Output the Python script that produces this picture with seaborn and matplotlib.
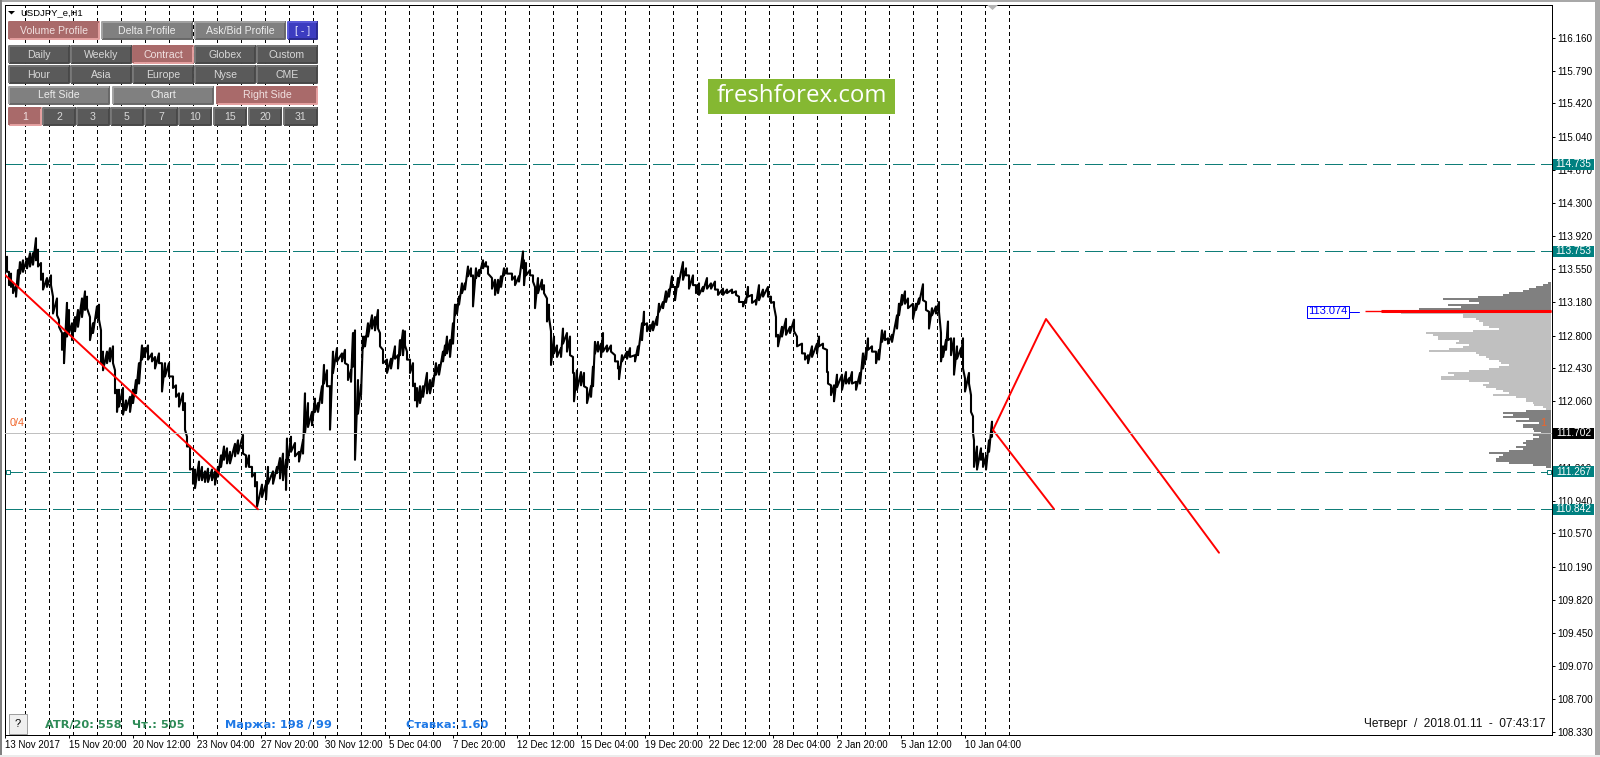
import matplotlib
matplotlib.use("Agg")
import matplotlib.pyplot as plt
import matplotlib.transforms as mtrans
import numpy as np
import seaborn as sns
from matplotlib.patches import Polygon, Rectangle

# hourly bars, sampled by eye: bar number, high and low of the stretch
bar_idx = [
    0, 2, 4, 6, 8, 11, 13, 15, 18, 22,
    25, 28, 31, 33, 36, 38, 42, 46, 48, 52,
    54, 57, 59, 62, 64, 67, 70, 73, 77, 80,
    82, 85, 88, 92, 94, 96, 98, 102, 105, 108,
    110, 112, 114, 118, 121, 125, 128, 131, 134, 137,
    139, 143, 147, 150, 154, 157, 160, 164, 168, 171,
    174, 178, 180, 182, 185, 188, 190, 194, 197, 200,
    203, 207, 210, 213, 216, 219, 222, 225, 230, 233,
    238, 241, 244, 247, 250, 252, 257, 261, 263, 268,
    272, 275, 278, 281, 282, 286, 290, 294, 298, 300,
    303, 307, 310, 313, 317, 319, 322, 325, 328, 332,
    337, 340, 343, 346, 348, 350, 353, 356, 358, 360,
    363, 367, 370, 373, 375, 378, 382, 386, 390, 393,
    395, 398, 400, 402, 405, 408, 410, 412, 415, 418,
    422, 425, 428, 431, 434, 438, 440, 442, 445, 448,
    450, 452, 454, 457, 460, 463, 466, 468, 471, 474,
    478, 481, 483, 487, 490, 493, 496, 499, 502, 507,
    510, 514, 518, 519, 521, 525, 528, 530, 533, 537,
    539, 542, 544, 546, 549, 552, 556, 558, 562, 565,
    568, 569, 572, 576, 579, 582, 586, 588, 590, 593,
    596, 598, 602, 606, 610, 613, 614, 617, 622, 625,
    630, 633, 637, 639, 642, 645, 648, 652, 654, 658,
    661, 664, 667, 670, 673, 678, 681, 684, 688, 691,
    694, 698, 702, 706, 710, 713, 718, 722, 727, 731,
    734, 738, 741, 743, 747, 751, 754, 758, 763, 766,
    769, 771, 773, 777, 781, 785, 789, 792, 797, 800,
    803, 807, 812, 814, 818, 822, 823, 826, 829, 832,
    837, 841, 844, 847, 851, 855, 858, 861, 863, 867,
    871, 874, 877, 880, 883, 887, 892, 894, 897, 900,
    903, 908, 911, 914, 918, 921, 924, 927, 931, 934,
    936, 938, 941, 943, 946, 949, 952, 956, 958, 960,
    964, 966, 968, 969, 972, 976, 978, 981, 984, 987,
]
price_high = [
    113.69, 113.69, 113.52, 113.50, 113.39, 113.37, 113.54, 113.63, 113.65, 113.67,
    113.73, 113.73, 113.90, 113.77, 113.62, 113.50, 113.45, 113.48, 113.24, 113.22,
    112.98, 112.83, 112.83, 113.17, 113.09, 112.94, 113.01, 113.09, 113.22, 113.30,
    113.24, 113.01, 112.94, 113.13, 113.15, 112.86, 112.62, 112.62, 112.66, 112.68,
    112.41, 112.19, 112.19, 112.21, 112.07, 112.11, 112.19, 112.30, 112.49, 112.69,
    112.66, 112.69, 112.60, 112.56, 112.60, 112.49, 112.49, 112.49, 112.34, 112.24,
    112.15, 112.15, 112.04, 111.66, 111.55, 111.30, 111.29, 111.38, 111.32, 111.27,
    111.30, 111.29, 111.27, 111.32, 111.45, 111.55, 111.53, 111.49, 111.58, 111.62,
    111.68, 111.45, 111.45, 111.32, 111.25, 111.15, 111.12, 111.13, 111.32, 111.27,
    111.32, 111.42, 111.47, 111.40, 111.64, 111.66, 111.59, 111.49, 111.62, 112.15,
    112.04, 111.94, 112.09, 112.04, 112.23, 112.47, 112.41, 112.23, 112.62, 112.66,
    112.60, 112.64, 112.47, 112.41, 112.83, 112.86, 112.30, 112.24, 112.79, 112.79,
    112.94, 113.03, 113.01, 113.09, 112.83, 112.64, 112.53, 112.54, 112.68, 112.58,
    112.75, 112.86, 112.85, 112.62, 112.53, 112.49, 112.26, 112.21, 112.23, 112.23,
    112.38, 112.30, 112.32, 112.49, 112.47, 112.62, 112.69, 112.79, 112.75, 112.94,
    113.15, 113.15, 113.24, 113.39, 113.39, 113.58, 113.56, 113.48, 113.56, 113.54,
    113.65, 113.63, 113.58, 113.45, 113.43, 113.43, 113.47, 113.56, 113.56, 113.50,
    113.47, 113.47, 113.75, 113.65, 113.62, 113.54, 113.48, 113.35, 113.45, 113.43,
    113.37, 113.22, 113.15, 112.85, 112.79, 112.69, 112.66, 112.88, 112.83, 112.79,
    112.56, 112.38, 112.41, 112.39, 112.38, 112.21, 112.23, 112.45, 112.73, 112.73,
    112.71, 112.83, 112.69, 112.69, 112.58, 112.51, 112.45, 112.58, 112.62, 112.66,
    112.58, 112.68, 112.94, 113.07, 112.94, 112.92, 112.96, 113.01, 113.16, 113.18,
    113.30, 113.32, 113.47, 113.35, 113.45, 113.63, 113.56, 113.48, 113.48, 113.37,
    113.39, 113.35, 113.45, 113.39, 113.41, 113.32, 113.33, 113.32, 113.32, 113.30,
    113.24, 113.18, 113.22, 113.35, 113.26, 113.20, 113.37, 113.32, 113.35, 113.24,
    113.18, 113.01, 112.81, 112.90, 112.99, 112.90, 112.98, 112.79, 112.71, 112.60,
    112.58, 112.68, 112.71, 112.79, 112.71, 112.64, 112.39, 112.24, 112.24, 112.36,
    112.36, 112.39, 112.32, 112.39, 112.28, 112.38, 112.60, 112.62, 112.77, 112.68,
    112.62, 112.64, 112.86, 112.85, 112.77, 112.81, 113.03, 113.16, 113.26, 113.30,
    113.22, 113.16, 113.16, 113.22, 113.38, 113.18, 113.07, 113.11, 113.13, 113.18,
    112.83, 112.68, 112.75, 112.96, 112.77, 112.77, 112.68, 112.66, 112.77, 112.32,
    112.38, 112.13, 111.89, 111.62, 111.55, 111.53, 111.47, 111.44, 111.62, 111.83,
]
price_low = [
    113.62, 113.52, 113.37, 113.35, 113.28, 113.24, 113.35, 113.50, 113.52, 113.56,
    113.58, 113.60, 113.65, 113.58, 113.43, 113.32, 113.35, 113.37, 113.05, 113.03,
    112.90, 112.64, 112.49, 112.79, 112.83, 112.75, 112.85, 112.90, 113.01, 113.09,
    113.11, 112.75, 112.83, 113.00, 112.98, 112.49, 112.41, 112.49, 112.51, 112.49,
    112.15, 111.94, 112.00, 111.91, 111.96, 111.94, 112.04, 112.15, 112.26, 112.53,
    112.56, 112.53, 112.51, 112.43, 112.49, 112.17, 112.34, 112.34, 112.21, 112.11,
    112.00, 111.96, 111.74, 111.55, 111.29, 111.13, 111.08, 111.17, 111.17, 111.15,
    111.15, 111.17, 111.12, 111.21, 111.32, 111.40, 111.36, 111.36, 111.44, 111.47,
    111.47, 111.32, 111.32, 111.21, 111.10, 110.87, 110.98, 110.95, 111.13, 111.13,
    111.25, 111.19, 111.17, 111.06, 111.32, 111.49, 111.44, 111.38, 111.47, 111.70,
    111.77, 111.79, 111.94, 111.94, 112.04, 112.26, 112.23, 111.74, 112.38, 112.51,
    112.51, 112.49, 112.30, 112.28, 112.45, 111.40, 111.92, 112.13, 112.66, 112.68,
    112.79, 112.88, 112.86, 112.88, 112.68, 112.49, 112.38, 112.43, 112.54, 112.43,
    112.58, 112.58, 112.69, 112.53, 112.38, 112.23, 112.07, 112.00, 112.04, 112.11,
    112.15, 112.15, 112.23, 112.36, 112.36, 112.51, 112.58, 112.60, 112.56, 112.71,
    113.03, 113.05, 113.15, 113.28, 113.32, 113.47, 113.47, 113.13, 113.45, 113.47,
    113.56, 113.58, 113.50, 113.33, 113.26, 113.28, 113.35, 113.48, 113.50, 113.43,
    113.37, 113.41, 113.56, 113.37, 113.48, 113.48, 113.41, 113.11, 113.28, 113.32,
    113.28, 112.96, 113.01, 112.47, 112.60, 112.56, 112.56, 112.71, 112.62, 112.58,
    112.38, 112.06, 112.19, 112.24, 112.23, 112.04, 112.11, 112.23, 112.60, 112.62,
    112.56, 112.62, 112.62, 112.62, 112.51, 112.43, 112.31, 112.51, 112.54, 112.56,
    112.51, 112.58, 112.75, 112.92, 112.85, 112.85, 112.86, 112.92, 113.07, 113.11,
    113.18, 113.24, 113.35, 113.20, 113.35, 113.43, 113.48, 113.33, 113.37, 113.28,
    113.26, 113.30, 113.33, 113.33, 113.32, 113.26, 113.26, 113.28, 113.28, 113.26,
    113.18, 113.13, 113.17, 113.24, 113.17, 113.15, 113.20, 113.24, 113.24, 113.17,
    113.13, 112.79, 112.68, 112.79, 112.81, 112.83, 112.85, 112.68, 112.60, 112.53,
    112.49, 112.56, 112.60, 112.68, 112.66, 112.39, 112.26, 112.13, 112.06, 112.22,
    112.19, 112.26, 112.26, 112.26, 112.19, 112.26, 112.43, 112.53, 112.64, 112.62,
    112.49, 112.53, 112.73, 112.75, 112.71, 112.73, 112.88, 113.03, 113.15, 113.16,
    113.11, 112.99, 113.09, 113.16, 113.20, 113.09, 112.88, 113.03, 113.05, 113.07,
    112.51, 112.56, 112.64, 112.75, 112.58, 112.36, 112.54, 112.56, 112.43, 112.17,
    112.26, 111.94, 111.70, 111.32, 111.29, 111.40, 111.32, 111.29, 111.49, 111.66,
]

# red trend lines
trend_x = [0, 253]
trend_y = [113.485, 110.842]
wave_x = [988, 1041, 1214]
wave_y = [111.736, 112.988, 110.352]
short_x = [988, 1049]
short_y = [111.736, 110.845]

# levels
level_prices = [114.735, 113.753, 111.267, 110.842]
last_price = 111.702

# volume profile, top to bottom
poc_price = 113.074
poc_volume = 186
poc_core = 170
profile_step = 0.02256
upper_start = 113.391
upper_volume = [3, 8, 15, 22, 28, 42, 48, 73, 108, 82, 72, 103, 90, 132]
value_start = 113.0525
value_volume = [150, 88, 88, 75, 72, 68, 68, 62, 52, 78,
                125, 118, 113, 113, 92, 95, 82, 88, 102, 122,
                75, 72, 65, 62, 52, 50, 42, 52, 62, 82,
                103, 97, 110, 110, 82, 62, 68, 65, 55, 48,
                42, 58, 35, 25, 25, 18, 17, 8, 5]
lower_start = 111.947
lower_volume = [25, 48, 38, 48, 22, 35, 12, 28, 28, 18,
                17, 10, 18, 12, 18, 25, 28, 25, 35, 28,
                42, 62, 48, 52, 55, 55, 42, 18, 5]

# axes
y_ticks = [116.160, 115.790, 115.420, 115.040, 114.670, 114.300, 113.920, 113.550,
           113.180, 112.800, 112.430, 112.060, 111.690, 111.310, 110.940, 110.570,
           110.190, 109.820, 109.450, 109.070, 108.700, 108.330]
x_tick_labels = ['13 Nov 2017', '15 Nov 20:00', '20 Nov 12:00', '23 Nov 04:00',
                 '27 Nov 20:00', '30 Nov 12:00', '5 Dec 04:00', '7 Dec 20:00',
                 '12 Dec 12:00', '15 Dec 04:00', '19 Dec 20:00', '22 Dec 12:00',
                 '28 Dec 04:00', '2 Jan 20:00', '5 Jan 12:00', '10 Jan 04:00']

sns.set_style("white")
plt.rcParams['font.family'] = ['Liberation Sans', 'DejaVu Sans']

W, H = 1600, 757
PX = 0.72  # one pixel in points at dpi 100
fig = plt.figure(figsize=(W / 100, H / 100), dpi=100)
ax = fig.add_axes([4.5 / W, 1 - 734.5 / H, 1547 / W, 730 / H])
ax.set_xlim(-0.5, 1546.5)
ax.set_ylim(108.302, 116.535)

# day separators
for x in np.arange(20.3, 1005, 24):
    ax.axvline(x, color='black', lw=PX, ls=(0, (3, 3)), antialiased=False, zorder=1)

for lvl in level_prices:
    ax.axhline(lvl, color='#0f7d78', lw=PX, ls=(0, (18, 6)), antialiased=False, zorder=1)

# price, drawn high-low-high-low so it reads as a jagged band
zig_x = np.repeat(bar_idx, 2)
zig_y = np.column_stack([price_high, price_low]).ravel()
sns.lineplot(x=zig_x, y=zig_y, sort=False, estimator=None, color='black', lw=1.5, ax=ax, zorder=3)

for xs, ys in [(trend_x, trend_y), (wave_x, wave_y), (short_x, short_y)]:
    sns.lineplot(x=xs, y=ys, sort=False, estimator=None, color='#ff0000', lw=1.4, ax=ax, zorder=4)

ax.yaxis.tick_right()
ax.set_yticks(y_ticks)
ax.set_yticklabels(['%.3f' % t for t in y_ticks])
ax.set_xticks(np.arange(len(x_tick_labels)) * 64)
ax.set_xticklabels(x_tick_labels)
ax.tick_params(axis='y', which='major', right=True, length=3 * PX, width=PX, pad=2.2,
               labelsize=7.1, colors='black')
ax.tick_params(axis='x', which='major', bottom=True, length=3 * PX, width=PX, pad=1.6,
               labelsize=7, colors='black')
for lbl in ax.get_xticklabels():
    lbl.set_ha('left')
for sp in ax.spines.values():
    sp.set_color('black')
    sp.set_linewidth(PX)
ax.set_xlabel('')
ax.set_ylabel('')

# profile on its own x scale, growing left from the price axis
prof = ax.twiny()
for start, vols, col in [(upper_start, upper_volume, '#808080'),
                         (value_start, value_volume, '#c0c0c0'),
                         (lower_start, lower_volume, '#808080')]:
    levels = start - np.arange(len(vols)) * profile_step
    sns.barplot(x=vols, y=levels, orient='y', native_scale=True, width=1, color=col,
                saturation=1, linewidth=0, ax=prof, zorder=2)
prof.hlines(poc_price, 0, poc_volume, color='#ff0000', lw=1.0, zorder=3)
prof.hlines(poc_price, 0, poc_core, color='#ff0000', lw=2.2, zorder=3)
prof.set_xlim(1546.5, -0.5)
prof.set_ylim(108.302, 116.535)
prof.axis('off')
prof.patch.set_alpha(0)

# grey last-price line over the profile
prof.axhline(last_price, color='#c0c0c0', lw=PX, antialiased=False, zorder=4)

# window furniture and panel, in pixel coordinates
ui = fig.add_axes([0, 0, 1, 1], zorder=10)
ui.set_xlim(0, W)
ui.set_ylim(H, 0)
ui.axis('off')
ui.patch.set_alpha(0)

ui.add_patch(Rectangle((0, 0), W, 2, fc='#a8a8a8', ec='none'))
ui.add_patch(Rectangle((0, 0), 2, H, fc='#808080', ec='none'))
ui.add_patch(Rectangle((1595, 0), 5, H, fc='#a8a8a8', ec='none'))
ui.add_patch(Rectangle((0, 755), W, 2, fc='#ececec', ec='none'))


def button(x0, x1, y0, y1, label, kind):
    fill, light, dark, txt = {
        'dark': ('#5a5a5a', '#767676', '#484848', '#d8d8d8'),
        'gray': ('#808080', '#a2a2a2', '#686868', '#ececec'),
        'red': ('#a96a6a', '#a96a6a', '#e5a0a0', '#f0e0e0'),
        'blue': ('#3c3cc0', '#5a5ad8', '#2a2a90', '#e8e8ff'),
    }[kind]
    ui.add_patch(Rectangle((x0, y0), x1 - x0, y1 - y0, fc=fill, ec='none'))
    ui.plot([x0, x1, x1], [y1 - 0.5, y1 - 0.5, y0], color=dark, lw=1.4, solid_capstyle='butt')
    ui.plot([x0, x0, x1], [y1, y0 + 0.5, y0 + 0.5], color=light, lw=1.4, solid_capstyle='butt')
    ui.text((x0 + x1) / 2, (y0 + y1) / 2 + 0.5, label, color=txt, fontsize=7.6,
            ha='center', va='center')


button(9, 99, 21, 39, 'Volume Profile', 'red')
button(102, 192, 21, 39, 'Delta Profile', 'gray')
button(195, 285, 21, 39, 'Ask/Bid Profile', 'gray')
button(288, 317, 21, 39, '[ - ]', 'blue')

row_x = [(9, 69), (71, 131), (133, 193), (195, 255), (257, 317)]
for (x0, x1), name in zip(row_x, ['Daily', 'Weekly', 'Contract', 'Globex', 'Custom']):
    button(x0, x1, 45, 63, name, 'red' if name == 'Contract' else 'dark')
for (x0, x1), name in zip(row_x, ['Hour', 'Asia', 'Europe', 'Nyse', 'CME']):
    button(x0, x1, 65, 83, name, 'dark')

button(9, 109, 86, 104, 'Left Side', 'gray')
button(113, 213, 86, 104, 'Chart', 'gray')
button(217, 317, 86, 104, 'Right Side', 'red')

day_x = [(9, 41), (43, 75), (77, 109), (111, 143), (145, 177), (179, 211), (214, 246),
         (249, 281), (284, 317)]
for (x0, x1), name in zip(day_x, ['1', '2', '3', '5', '7', '10', '15', '20', '31']):
    button(x0, x1, 107, 125, name, 'red' if name == '1' else 'dark')

ui.add_patch(Polygon([(8, 11), (15, 11), (11.5, 14.5)], fc='black', ec='none'))
ui.text(20, 12.5, 'USDJPY_e,H1', color='black', fontsize=6.8, va='center')

# watermark
ui.add_patch(Rectangle((708, 79), 187, 35, fc='#85b832', ec='none'))
ui.text(801.5, 96, 'freshforex.com', color='white', fontsize=17.3, family='Open Sans',
        ha='center', va='center')

# chart shift marker
ui.add_patch(Polygon([(987, 5), (998, 5), (992.5, 10)], fc='#b4b4b4', ec='none'))

# bottom strip
ui.add_patch(Rectangle((8.5, 713.5), 18, 20, fc='#f0f0f0', ec='#a0a0a0', lw=PX))
ui.text(17.5, 724, '?', color='black', fontsize=8, ha='center', va='center')
bold = ['DejaVu Sans']
ui.text(45, 725, 'ATR/20: 558', color='#2e8b57', fontsize=8.2, fontweight='bold', family=bold, va='center')
ui.text(132, 725, 'Чт.: 505', color='#2e8b57', fontsize=8.2, fontweight='bold', family=bold, va='center')
ui.text(225, 725, 'Маржа: 198 / 99', color='#1e78e6', fontsize=8.2, fontweight='bold', family=bold, va='center')
ui.text(406, 725, 'Ставка: 1.60', color='#1e78e6', fontsize=8.2, fontweight='bold', family=bold, va='center')
ui.text(1545, 724, 'Четверг  /  2018.01.11  -  07:43:17', color='#101010', fontsize=8.6,
        ha='right', va='center')

# small marks
ui.text(10, 423, '0/4', color='#f06428', fontsize=7.8, va='center')
ui.text(1543, 423, '1', color='#f06428', fontsize=7.8, ha='center', va='center')
for sq_x in [7.5, 1548.5]:
    ui.add_patch(Rectangle((sq_x - 2, 469.5), 4, 4, fc='white', ec='#0f7d78', lw=PX))

# price tags on the axis
blend = mtrans.blended_transform_factory(ui.transData, ax.transData)
half = 5.5 / 88.66
for price, fc in [(114.735, '#008080'), (113.753, '#008080'), (111.702, 'black'),
                  (111.267, '#008080'), (110.842, '#008080')]:
    ui.add_patch(Rectangle((1553, price - half), 41, 2 * half, fc=fc, ec='none', transform=blend))
    ui.text(1573.5, price, '%.3f' % price, color='white', fontsize=7.3, ha='center', va='center',
            transform=blend)

# profile top-level box
ui.add_patch(Rectangle((1306.5, 305.5), 42, 12, fc='white', ec='#0000ff', lw=PX))
ui.text(1327.5, 311.5, '113.074', color='#0000ff', fontsize=8, ha='center', va='center')
ui.plot([1349, 1359], [311.5, 311.5], color='#0000ff', lw=PX)

fig.savefig('out.png', dpi=100)
plt.close(fig)
